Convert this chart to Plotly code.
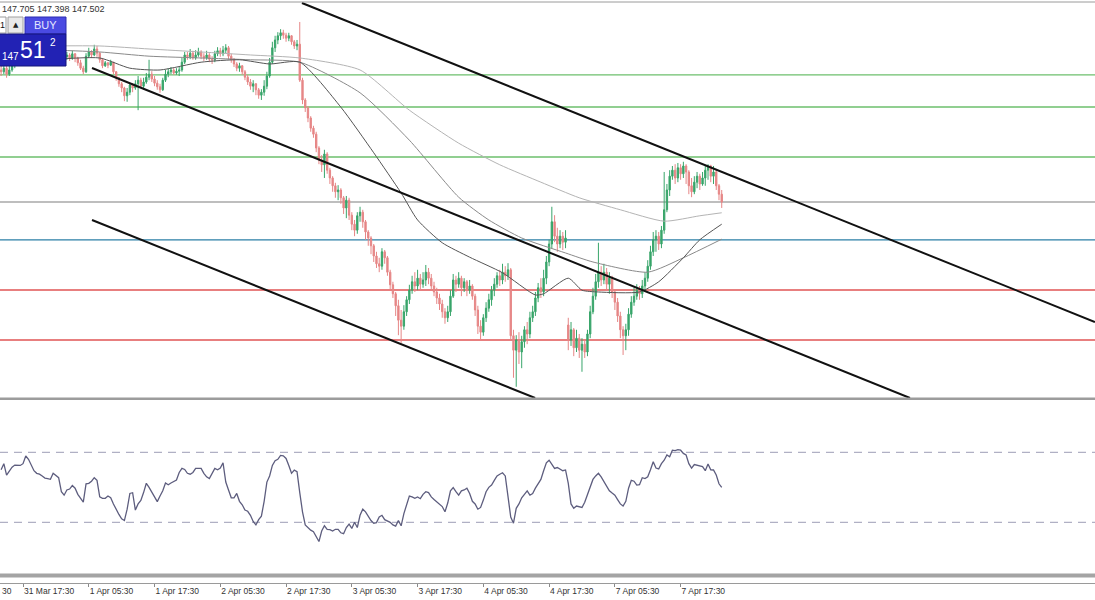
import plotly.graph_objects as go

W, H = 1095, 600

# ---------------- data (USDJPY M30) ----------------
first_open = 149.70
gap_opens = {207: 145.45}   # weekend gap open (Mon)

closes = [
149.67,149.73,149.63,149.70,149.77,149.83,149.87,149.92,149.88,149.95,
149.92,149.97,149.93,149.98,149.95,149.90,149.93,149.88,149.92,149.87,
149.90,149.85,149.88,149.92,149.95,149.90,149.97,149.90,149.82,149.73,
149.67,149.93,150.00,149.95,150.05,149.98,149.87,149.77,149.82,149.78,
149.83,149.67,149.57,149.47,149.40,149.27,149.33,149.45,149.40,149.47,
149.53,149.43,149.50,149.58,149.63,149.55,149.48,149.42,149.37,149.53,
149.63,149.67,149.70,149.65,149.68,149.70,149.83,149.95,149.92,149.98,
149.90,149.95,150.00,149.93,149.90,149.95,149.88,149.87,149.97,150.02,
149.97,150.03,150.07,149.93,149.87,149.80,149.73,149.77,149.67,149.58,
149.50,149.43,149.47,149.37,149.28,149.33,149.43,149.60,149.83,150.07,
150.20,150.27,150.32,150.28,150.23,150.27,150.17,150.10,150.13,149.53,
149.20,149.07,148.90,148.73,148.63,148.40,148.20,148.12,148.30,148.03,
147.90,147.77,147.67,147.70,147.57,147.40,147.53,147.28,147.13,147.03,
147.27,147.33,147.17,147.00,146.90,146.77,146.60,146.47,146.43,146.67,
146.57,146.33,146.12,145.97,145.77,145.53,145.43,145.67,145.87,146.03,
146.17,146.10,146.23,146.13,146.20,146.33,146.23,146.10,146.00,145.90,
145.80,145.67,145.57,145.67,145.93,146.20,146.13,146.23,146.07,146.17,
146.03,146.10,145.93,145.70,145.43,145.33,145.57,145.73,145.87,146.03,
146.13,146.27,146.20,146.33,146.27,146.37,145.27,145.03,145.20,145.00,
145.17,145.37,145.30,145.57,145.67,145.90,146.07,146.00,146.23,146.50,
146.80,147.17,146.93,146.80,146.93,146.83,146.90,145.20,145.37,145.07,
145.23,145.03,145.13,145.00,145.30,145.67,145.93,146.17,146.33,146.20,
146.33,146.13,146.23,146.00,145.83,145.60,145.37,145.27,145.37,145.63,
145.83,145.93,146.03,145.97,146.10,146.23,146.43,146.67,146.87,146.93,
146.80,147.03,147.37,147.70,147.93,148.03,147.90,148.07,147.97,148.10,
148.00,147.77,147.67,147.83,147.93,147.80,147.90,148.03,148.10,147.93,
148.00,147.77,147.63,147.50]

highs = [
149.77,149.80,149.77,149.77,149.83,149.90,149.93,149.98,149.97,150.02,
150.00,150.03,150.00,150.05,150.02,149.98,150.00,149.97,149.98,149.95,
149.97,149.93,149.95,149.98,150.00,149.98,150.02,149.98,149.92,149.87,
149.77,149.98,150.07,150.03,150.12,150.10,150.00,149.90,149.85,149.83,
149.87,149.83,149.68,149.58,149.50,149.42,149.40,149.48,149.48,149.53,
149.60,149.57,149.57,149.65,149.87,149.68,149.60,149.53,149.47,149.57,
149.70,149.73,149.75,149.73,149.73,149.75,149.90,150.00,150.00,150.05,
150.02,150.03,150.07,150.03,149.98,150.02,149.98,149.93,150.02,150.08,
150.07,150.10,150.13,150.10,149.97,149.90,149.83,149.82,149.78,149.70,
149.62,149.55,149.53,149.48,149.40,149.38,149.53,149.67,149.90,150.17,
150.27,150.33,150.38,150.37,150.32,150.32,150.28,150.20,150.20,150.50,
149.57,149.23,149.10,148.93,148.77,148.67,148.43,148.28,148.37,148.33,
148.07,147.93,147.82,147.78,147.73,147.60,147.60,147.57,147.33,147.20,
147.33,147.42,147.37,147.20,147.03,146.93,146.80,146.67,146.57,146.73,
146.70,146.60,146.37,146.17,146.00,145.87,145.70,145.78,145.93,146.12,
146.27,146.33,146.37,146.30,146.33,146.45,146.40,146.30,146.17,146.07,
145.97,145.87,145.73,145.77,146.03,146.30,146.27,146.33,146.27,146.23,
146.20,146.20,146.13,145.97,145.77,145.53,145.63,145.83,145.97,146.10,
146.23,146.33,146.37,146.47,146.43,146.48,146.40,145.37,145.28,145.33,
145.27,145.43,145.50,145.67,145.77,146.00,146.15,146.23,146.37,146.60,
146.87,147.42,147.28,147.07,147.03,147.00,147.03,145.57,145.50,145.40,
145.37,145.30,145.23,145.20,145.37,145.77,146.07,146.30,146.82,146.43,
146.47,146.40,146.33,146.27,146.03,145.90,145.67,145.43,145.47,145.73,
145.93,146.07,146.13,146.10,146.20,146.33,146.53,146.77,147.00,147.03,
147.00,147.10,148.00,147.80,148.03,148.10,148.13,148.15,148.13,148.17,
148.13,148.03,147.90,147.93,148.00,147.97,148.00,148.10,148.13,148.12,
148.10,148.03,147.80,147.70]

lows = [
149.60,149.63,149.57,149.60,149.67,149.73,149.80,149.83,149.82,149.85,
149.87,149.88,149.87,149.90,149.88,149.83,149.87,149.82,149.85,149.80,
149.83,149.80,149.82,149.85,149.87,149.85,149.87,149.83,149.77,149.70,
149.63,149.65,149.90,149.90,149.93,149.92,149.82,149.73,149.75,149.73,
149.77,149.63,149.52,149.42,149.33,149.18,149.17,149.28,149.33,149.37,
149.03,149.40,149.37,149.47,149.53,149.50,149.43,149.37,149.32,149.35,
149.50,149.58,149.63,149.62,149.62,149.60,149.67,149.80,149.87,149.88,
149.87,149.87,149.92,149.88,149.85,149.87,149.83,149.80,149.83,149.93,
149.92,149.93,149.98,149.88,149.82,149.75,149.68,149.67,149.62,149.53,
149.45,149.37,149.33,149.28,149.22,149.20,149.27,149.38,149.57,149.80,
150.00,150.13,150.20,150.22,150.17,150.18,150.12,150.05,150.03,149.50,
149.13,149.00,148.83,148.67,148.57,148.33,148.13,148.00,147.90,147.97,
147.80,147.67,147.57,147.53,147.47,147.30,147.23,147.20,147.03,146.93,
146.97,147.17,147.07,146.87,146.77,146.63,146.50,146.40,146.33,146.37,
146.47,146.27,146.03,145.90,145.60,145.28,145.15,145.37,145.60,145.80,
145.97,146.00,146.03,146.03,146.07,146.10,146.13,146.03,145.93,145.80,
145.70,145.57,145.47,145.50,145.60,145.90,146.00,146.07,145.93,146.00,
145.93,145.97,145.87,145.60,145.30,145.20,145.27,145.50,145.67,145.77,
145.93,146.07,146.10,146.13,146.17,146.20,145.20,144.57,144.42,144.80,
144.73,145.07,145.13,145.23,145.50,145.60,145.83,145.90,145.93,146.13,
146.43,146.73,146.83,146.67,146.73,146.70,146.73,145.03,145.10,144.93,
145.00,144.90,144.67,144.90,144.93,145.23,145.63,145.87,146.07,146.10,
146.13,146.03,145.97,145.90,145.70,145.50,145.23,144.95,145.03,145.27,
145.57,145.77,145.87,145.87,145.90,146.00,146.17,146.37,146.60,146.67,
146.70,146.73,146.97,147.33,147.60,147.87,147.80,147.83,147.87,147.90,
147.80,147.63,147.58,147.63,147.73,147.70,147.77,147.77,147.87,147.83,
147.80,147.70,147.53,147.40]

rsi = [
60.0,63.5,57.0,59.0,61.5,62.7,62.5,62.5,63.5,67.9,
66.0,63.0,59.5,58.0,57.5,56.5,55.3,55.0,54.6,58.0,
57.0,55.5,47.5,45.5,48.5,49.0,51.0,49.5,46.0,44.0,
41.5,52.0,52.3,53.5,55.5,54.0,44.5,43.7,43.7,45.0,
44.0,40.5,37.0,34.5,32.0,31.0,37.5,46.5,46.9,37.0,
40.5,42.5,47.0,52.3,50.0,47.5,44.5,41.8,45.0,48.0,
52.5,51.5,52.5,53.5,54.2,58.5,60.8,60.2,58.0,57.5,
58.5,60.8,60.8,60.8,58.0,56.0,55.0,57.5,60.8,60.0,
61.0,64.0,53.0,48.5,44.0,44.0,46.5,42.0,40.0,37.0,
36.3,34.0,30.5,28.5,31.5,33.5,42.0,53.0,56.5,62.5,
65.2,66.0,68.2,68.0,66.5,62.5,58.0,59.8,59.0,47.0,
36.0,28.5,27.0,25.5,24.6,22.0,19.0,25.0,28.0,26.0,
25.8,25.0,26.0,26.0,24.0,23.5,27.0,29.0,26.5,30.0,
27.0,34.0,37.5,36.0,33.5,31.0,29.5,29.8,33.0,34.0,
31.5,30.8,30.0,28.5,27.8,31.0,28.0,35.0,39.5,45.0,
44.5,43.7,44.5,43.5,46.0,47.5,47.0,44.5,43.0,41.8,
40.5,39.0,36.0,41.0,48.0,49.8,47.5,45.5,48.0,48.5,
49.5,46.5,42.0,40.5,37.5,38.5,42.7,47.5,50.0,51.3,
54.0,56.5,57.5,58.3,56.5,45.0,33.0,29.5,38.0,40.5,
44.0,46.0,48.0,45.5,46.5,49.5,52.3,54.5,59.5,64.0,
65.5,63.0,60.8,61.3,60.5,59.5,59.9,52.3,40.5,38.0,
39.3,38.7,38.5,41.5,46.0,50.5,54.5,56.5,58.0,56.0,
53.5,51.3,48.0,46.7,45.5,43.0,40.5,39.3,42.0,49.5,
54.0,53.5,51.3,51.5,55.5,55.0,56.0,60.0,64.6,61.0,
60.5,63.5,65.5,68.5,67.5,71.2,71.0,71.5,71.2,69.4,
68.5,63.5,61.0,63.0,62.5,62.0,61.8,59.5,63.3,60.0,
59.9,57.0,52.0,50.0]

# moving averages (sampled readings: bar index -> price)
ma_slow_bars = [0, 18, 36, 54, 73, 91, 109, 131, 149, 167, 182, 197, 211, 226, 242, 255, 263]
ma_slow = [150.07, 150.10, 150.10, 150.05, 150.00, 149.95, 149.90, 149.70, 149.03, 148.48,
           148.12, 147.83, 147.57, 147.37, 147.18, 147.27, 147.32]
ma_mid_bars = [0, 18, 36, 54, 73, 91, 109, 131, 149, 167, 178, 190, 206, 216, 236, 249, 263]
ma_mid = [150.00, 150.03, 150.00, 149.93, 149.90, 149.87, 149.83, 149.32, 148.53, 147.58,
          147.20, 146.90, 146.65, 146.50, 146.33, 146.57, 146.88]
ma_fast_bars = [0, 18, 36, 47, 58, 73, 87, 98, 109, 124, 136, 146, 152, 161, 171, 183, 195,
                198, 207, 212, 218, 233, 240, 249, 255, 263]
ma_fast = [149.77, 149.87, 149.90, 149.73, 149.70, 149.83, 149.87, 149.80, 149.83, 149.08,
           148.32, 147.65, 147.20, 146.82, 146.58, 146.32, 145.95, 145.97, 146.23, 146.03,
           146.00, 146.00, 146.17, 146.57, 146.87, 147.13]

# horizontal levels
level_prices = [149.617, 149.083, 148.25, 147.50, 146.867, 146.033, 145.20]
level_colors = ["#6cbf6c", "#6cbf6c", "#6cbf6c", "#a8a8a8", "#2b7fa6", "#e05555", "#e05555"]

# channel trend lines: (bar0, price0, bar1, price1)
trend_lines = [
    (109.8, 150.817, 399.2, 145.50),
    (33.18, 149.733, 331.7, 144.233),
    (33.18, 147.20, 194.9, 144.233),
]

rsi_levels = [70, 30]

tick_bars = [8, 32, 56, 80, 104, 128, 152, 176, 200, 224, 248]
tick_labels = ["31 Mar 17:30", "1 Apr 05:30", "1 Apr 17:30", "2 Apr 05:30", "2 Apr 17:30",
               "3 Apr 05:30", "3 Apr 17:30", "4 Apr 05:30", "4 Apr 17:30", "7 Apr 05:30",
               "7 Apr 17:30"]

header_text = "147.705 147.398 147.502"

# ---------------- build ----------------
opens = []
prev = first_open
for i, c in enumerate(closes):
    opens.append(gap_opens.get(i, prev))
    prev = c
bars = list(range(len(closes)))

def px(x):
    return x / W

def py(y):
    return 1 - y / H

fig = go.Figure()

fig.add_trace(go.Candlestick(
    x=bars, open=opens, high=highs, low=lows, close=closes,
    increasing=dict(line=dict(color="#38a56a", width=1), fillcolor="#38a56a"),
    decreasing=dict(line=dict(color="#e68686", width=1), fillcolor="#e68686"),
    whiskerwidth=0, xaxis="x", yaxis="y", hoverinfo="skip"))

for bx, vals, col in [(ma_slow_bars, ma_slow, "#b4b4b4"),
                      (ma_mid_bars, ma_mid, "#8a8a8a"),
                      (ma_fast_bars, ma_fast, "#555555")]:
    fig.add_trace(go.Scatter(x=bx, y=vals, mode="lines",
                             line=dict(color=col, width=1, shape="spline", smoothing=0.6),
                             xaxis="x", yaxis="y", hoverinfo="skip"))

fig.add_trace(go.Scatter(x=bars, y=rsi, mode="lines",
                         line=dict(color="#5d5d7e", width=1.3),
                         xaxis="x", yaxis="y2", hoverinfo="skip"))

shapes = []
for p, c in zip(level_prices, level_colors):
    shapes.append(dict(type="line", xref="paper", yref="y", x0=0, x1=1, y0=p, y1=p,
                       line=dict(color=c, width=1.3), layer="below"))
for (b0, p0, b1, p1) in trend_lines:
    shapes.append(dict(type="line", xref="x", yref="y", x0=b0, y0=p0, x1=b1, y1=p1,
                       line=dict(color="#111111", width=2)))
for lv in rsi_levels:
    shapes.append(dict(type="line", xref="paper", yref="y2", x0=0, x1=1, y0=lv, y1=lv,
                       line=dict(color="#b0b0c4", width=1.2, dash="8px,6px"), layer="below"))

# panel frames / separators
shapes += [
    dict(type="line", xref="paper", yref="paper", x0=0, x1=1, y0=py(2), y1=py(2),
         line=dict(color="#9a9a9a", width=1)),
    dict(type="rect", xref="paper", yref="paper", x0=0, x1=1, y0=py(400), y1=py(397.5),
         line=dict(width=0), fillcolor="#9c9c9c"),
    dict(type="rect", xref="paper", yref="paper", x0=0, x1=1, y0=py(577.5), y1=py(573.5),
         line=dict(width=0), fillcolor="#a4a4a4"),
]

# one-click trading widget
shapes += [
    dict(type="rect", xref="paper", yref="paper", x0=px(-2), x1=px(6), y0=py(33), y1=py(17),
         fillcolor="#ffffff", line=dict(color="#9a9a9a", width=1), layer="above"),
    dict(type="rect", xref="paper", yref="paper", x0=px(8), x1=px(23), y0=py(33), y1=py(17),
         fillcolor="#e9e9e9", line=dict(color="#a0a0a0", width=1), layer="above"),
    dict(type="rect", xref="paper", yref="paper", x0=px(25), x1=px(66), y0=py(34), y1=py(17),
         fillcolor="#4a4ae2", line=dict(color="#2c2cb0", width=1), layer="above"),
    dict(type="rect", xref="paper", yref="paper", x0=px(-2), x1=px(66), y0=py(66), y1=py(34),
         fillcolor="#2222b4", line=dict(color="#15157a", width=1), layer="above"),
]

def note(text, x, y, size, color, family="Liberation Sans", xa="center"):
    return dict(text=text, xref="paper", yref="paper", x=px(x), y=py(y), xanchor=xa,
                yanchor="middle", showarrow=False, font=dict(family=family, size=size, color=color))

annotations = [
    note(header_text, 0, 9, 9, "#333333", xa="left"),
    note("1", 2.5, 25, 9, "#111111"),
    note("▲", 15.5, 25, 7, "#222222", family="DejaVu Sans"),
    note("BUY", 45.5, 25.5, 11, "#e4e6ff"),
    note("147", 0, 57, 10, "#ffffff", xa="left"),
    note("51", 32.5, 50, 23, "#ffffff"),
    note("2", 52.5, 43, 10, "#ffffff"),
    note("30", 0, 591, 8.5, "#333333", xa="left"),
]

fig.update_layout(
    width=W, height=H, margin=dict(l=0, r=0, t=0, b=0, pad=0, autoexpand=False),
    paper_bgcolor="#ffffff", plot_bgcolor="#ffffff", showlegend=False,
    shapes=shapes, annotations=annotations,
    xaxis=dict(domain=[0, 1], range=[-0.40, 399.23], anchor="y2", automargin=False,
               tickmode="array", tickvals=tick_bars, ticktext=tick_labels,
               ticks="outside", ticklen=3, tickcolor="#8a8a8a",
               ticklabelposition="outside right",
               tickfont=dict(family="Liberation Sans", size=8.5, color="#333333"),
               showline=True, linecolor="#9a9a9a", linewidth=1,
               showgrid=False, zeroline=False, rangeslider=dict(visible=False)),
    yaxis=dict(domain=[py(398), py(2)], range=[144.233, 150.833], visible=False,
               showgrid=False, zeroline=False, automargin=False),
    yaxis2=dict(domain=[py(583), py(400)], range=[-4.69, 99.9], visible=False,
                showgrid=False, zeroline=False, automargin=False),
)

fig.write_html("out.html", config={"displayModeBar": False},
               post_script="document.body.style.margin='0';document.body.style.overflow='hidden';")
